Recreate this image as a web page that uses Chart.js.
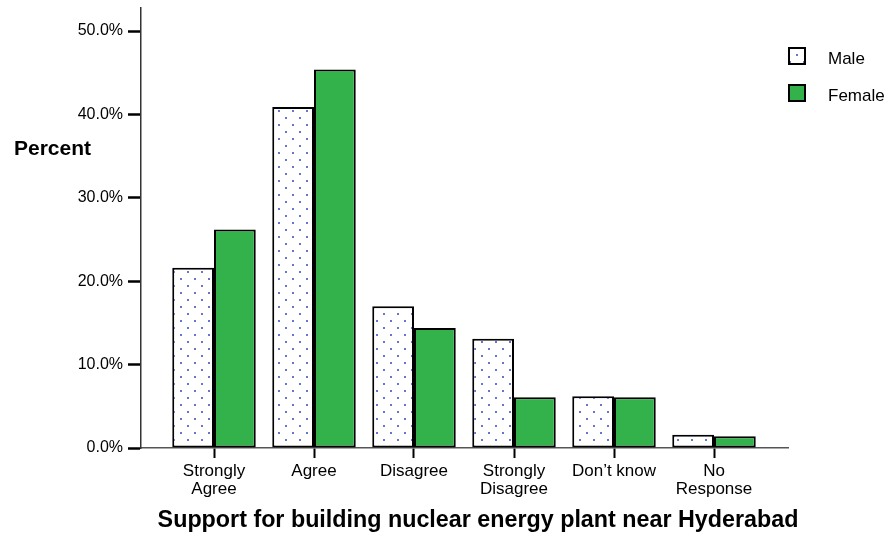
<!DOCTYPE html>
<html>
<head>
<meta charset="utf-8">
<script src="https://cdn.jsdelivr.net/npm/chart.js@4/dist/chart.umd.min.js"></script>
<style>
  html, body { margin: 0; padding: 0; background: #ffffff; }
  canvas { display: block; }
</style>
</head>
<body>
<canvas id="c" width="886" height="537"></canvas>
<script>
// ---- data ----
const categories = ['Strongly Agree', 'Agree', 'Disagree', 'Strongly Disagree', 'Don\u2019t know', 'No Response'];
const categoryLabels = [['Strongly', 'Agree'], ['Agree'], ['Disagree'], ['Strongly', 'Disagree'], ['Don\u2019t know'], ['No', 'Response']];
const seriesNames = ['Male', 'Female'];
const maleValues = [21.6, 40.9, 17.0, 13.1, 6.2, 1.6];
const femaleValues = [26.2, 45.4, 14.4, 6.1, 6.1, 1.4];
const yTicks = [0, 10, 20, 30, 40, 50];
const yAxisTitle = 'Percent';
const xAxisTitle = 'Support for building nuclear energy plant near Hyderabad';

// ---- styles ----
const FONT = '"Liberation Sans", Arial, Helvetica, sans-serif';
const GREEN = '#33b24b';

function makeDotPattern() {
  const t = document.createElement('canvas');
  t.width = 14; t.height = 14;
  const g = t.getContext('2d');
  g.fillStyle = '#ffffff';
  g.fillRect(0, 0, 14, 14);
  g.fillStyle = '#6676d0';
  g.fillRect(5, 5, 2, 2);
  g.fillRect(12, 12, 2, 2);
  return document.getElementById('c').getContext('2d').createPattern(t, 'repeat');
}
const malePattern = makeDotPattern();

const toPoints = arr => arr.map((v, i) => ({ x: i, y: v }));

const textPlugin = {
  id: 'texts',
  afterDraw(chart) {
    const ctx = chart.ctx;
    ctx.save();
    ctx.fillStyle = '#000';
    ctx.textBaseline = 'middle';
    // y axis title
    ctx.font = 'bold 21px ' + FONT;
    ctx.textAlign = 'left';
    ctx.fillText(yAxisTitle, 14, 149);
    // x axis title
    ctx.font = 'bold 23.3px ' + FONT;
    ctx.textAlign = 'center';
    ctx.fillText(xAxisTitle, 478, 521);
    // legend
    const fills = [malePattern, GREEN];
    const rows = [56, 93];
    ctx.font = '17px ' + FONT;
    ctx.textAlign = 'left';
    seriesNames.forEach((name, i) => {
      const y = rows[i];
      ctx.fillStyle = fills[i];
      ctx.fillRect(789, y - 8, 16, 16);
      ctx.lineWidth = 2;
      ctx.strokeStyle = '#000';
      ctx.strokeRect(789, y - 8, 16, 16);
      ctx.fillStyle = '#000';
      ctx.fillText(name, 828, y + 3);
    });
    ctx.restore();
  }
};

new Chart(document.getElementById('c'), {
  type: 'bar',
  data: {
    datasets: [
      {
        label: seriesNames[0],
        data: toPoints(maleValues),
        backgroundColor: malePattern,
        borderColor: '#000',
        borderWidth: 2,
        borderSkipped: false
      },
      {
        label: seriesNames[1],
        data: toPoints(femaleValues),
        backgroundColor: GREEN,
        borderColor: '#000',
        borderWidth: 2,
        borderSkipped: false
      }
    ]
  },
  options: {
    responsive: false,
    animation: false,
    devicePixelRatio: 1,
    layout: { padding: { top: 8, right: 98, bottom: 0, left: 0 } },
    categoryPercentage: 0.835,
    barPercentage: 1.0,
    plugins: {
      legend: { display: false },
      tooltip: { enabled: false },
      title: { display: false }
    },
    scales: {
      x: {
        type: 'linear',
        offset: false,
        min: -0.73,
        max: 5.74,
        afterBuildTicks: s => { s.ticks = categories.map((c, i) => ({ value: i })); },
        afterFit: s => { s.height = 89; },
        grid: {
          display: true,
          offset: false,
          drawOnChartArea: false,
          drawTicks: true,
          tickLength: 10,
          tickColor: '#000',
          tickWidth: 2
        },
        border: { display: true, color: '#555', width: 1.5 },
        ticks: {
          autoSkip: false,
          maxRotation: 0,
          padding: 4,
          color: '#000',
          font: { family: FONT, size: 17, lineHeight: 1.08 },
          callback: v => categoryLabels[v]
        }
      },
      y: {
        type: 'linear',
        min: 0,
        max: 52.76,
        afterBuildTicks: s => { s.ticks = yTicks.map(v => ({ value: v })); },
        afterFit: s => { s.width = 141; s.paddingTop = 0; s.paddingBottom = 0; },
        grid: {
          display: true,
          drawOnChartArea: false,
          drawTicks: true,
          tickLength: 13,
          tickColor: '#000',
          tickWidth: 2.5
        },
        border: { display: true, color: '#333', width: 1.5 },
        ticks: {
          padding: 5,
          color: '#000',
          font: { family: FONT, size: 16 },
          callback: v => v.toFixed(1) + '%'
        }
      }
    }
  },
  plugins: [textPlugin]
});
</script>
</body>
</html>
